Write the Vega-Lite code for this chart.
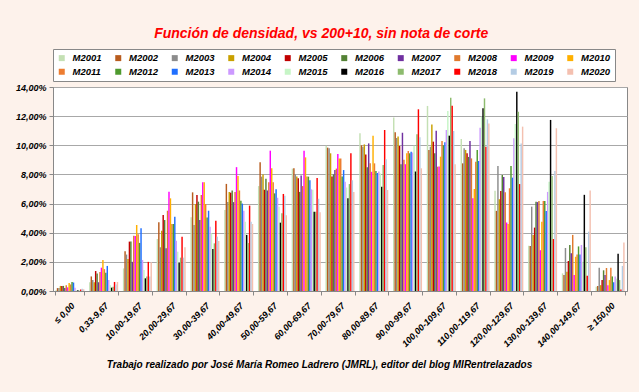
{
"$schema": "https://vega.github.io/schema/vega-lite/v6.json",
"autosize": {"type": "none"},
"width": 574, "height": 204,
"padding": {"left": 53, "top": 87, "right": 12, "bottom": 101},
"background": "#FDF2EB",
"title": {"text": "Función de densidad, vs 200+10, sin nota de corte", "color": "#FF0000", "font": "Liberation Sans", "fontSize": 14, "fontStyle": "italic", "fontWeight": "bold", "frame": "bounds", "anchor": "middle", "offset": 8},
"data": {"values": [
{"c":"≤ 0,00","s":"M2001","v":0.05},{"c":"≤ 0,00","s":"M2002","v":0.2},{"c":"≤ 0,00","s":"M2003","v":0.2},{"c":"≤ 0,00","s":"M2004","v":0.35},{"c":"≤ 0,00","s":"M2005","v":0.35},{"c":"≤ 0,00","s":"M2006","v":0.35},{"c":"≤ 0,00","s":"M2007","v":0.2},{"c":"≤ 0,00","s":"M2008","v":0.4},{"c":"≤ 0,00","s":"M2009","v":0.25},{"c":"≤ 0,00","s":"M2010","v":0.55},{"c":"≤ 0,00","s":"M2011","v":0.45},{"c":"≤ 0,00","s":"M2012","v":0.62},{"c":"≤ 0,00","s":"M2013","v":0.58},{"c":"≤ 0,00","s":"M2014","v":0.23},{"c":"≤ 0,00","s":"M2015","v":0.05},{"c":"≤ 0,00","s":"M2016","v":0.05},{"c":"≤ 0,00","s":"M2017","v":0.02},{"c":"≤ 0,00","s":"M2018","v":0.1},{"c":"≤ 0,00","s":"M2019","v":0.15},{"c":"≤ 0,00","s":"M2020","v":0.12},
{"c":"0,33-9,67","s":"M2001","v":0.6},{"c":"0,33-9,67","s":"M2002","v":1.0},{"c":"0,33-9,67","s":"M2003","v":0.75},{"c":"0,33-9,67","s":"M2004","v":0.6},{"c":"0,33-9,67","s":"M2005","v":1.37},{"c":"0,33-9,67","s":"M2006","v":1.2},{"c":"0,33-9,67","s":"M2007","v":0.6},{"c":"0,33-9,67","s":"M2008","v":1.3},{"c":"0,33-9,67","s":"M2009","v":1.6},{"c":"0,33-9,67","s":"M2010","v":2.13},{"c":"0,33-9,67","s":"M2011","v":1.5},{"c":"0,33-9,67","s":"M2012","v":1.25},{"c":"0,33-9,67","s":"M2013","v":1.72},{"c":"0,33-9,67","s":"M2014","v":0.75},{"c":"0,33-9,67","s":"M2015","v":0.4},{"c":"0,33-9,67","s":"M2016","v":0.23},{"c":"0,33-9,67","s":"M2017","v":0.3},{"c":"0,33-9,67","s":"M2018","v":0.62},{"c":"0,33-9,67","s":"M2019","v":0.45},{"c":"0,33-9,67","s":"M2020","v":0.62},
{"c":"10,00-19,67","s":"M2001","v":1.55},{"c":"10,00-19,67","s":"M2002","v":2.72},{"c":"10,00-19,67","s":"M2003","v":2.5},{"c":"10,00-19,67","s":"M2004","v":2.2},{"c":"10,00-19,67","s":"M2005","v":3.39},{"c":"10,00-19,67","s":"M2006","v":3.4},{"c":"10,00-19,67","s":"M2007","v":2.0},{"c":"10,00-19,67","s":"M2008","v":3.8},{"c":"10,00-19,67","s":"M2009","v":3.78},{"c":"10,00-19,67","s":"M2010","v":4.53},{"c":"10,00-19,67","s":"M2011","v":3.9},{"c":"10,00-19,67","s":"M2012","v":3.3},{"c":"10,00-19,67","s":"M2013","v":4.3},{"c":"10,00-19,67","s":"M2014","v":2.13},{"c":"10,00-19,67","s":"M2015","v":1.44},{"c":"10,00-19,67","s":"M2016","v":0.87},{"c":"10,00-19,67","s":"M2017","v":1.0},{"c":"10,00-19,67","s":"M2018","v":2.0},{"c":"10,00-19,67","s":"M2019","v":1.0},{"c":"10,00-19,67","s":"M2020","v":1.97},
{"c":"20,00-29,67","s":"M2001","v":3.57},{"c":"20,00-29,67","s":"M2002","v":4.72},{"c":"20,00-29,67","s":"M2003","v":3.0},{"c":"20,00-29,67","s":"M2004","v":4.14},{"c":"20,00-29,67","s":"M2005","v":5.22},{"c":"20,00-29,67","s":"M2006","v":4.87},{"c":"20,00-29,67","s":"M2007","v":2.93},{"c":"20,00-29,67","s":"M2008","v":5.51},{"c":"20,00-29,67","s":"M2009","v":6.81},{"c":"20,00-29,67","s":"M2010","v":6.36},{"c":"20,00-29,67","s":"M2011","v":4.6},{"c":"20,00-29,67","s":"M2012","v":4.6},{"c":"20,00-29,67","s":"M2013","v":5.1},{"c":"20,00-29,67","s":"M2014","v":3.45},{"c":"20,00-29,67","s":"M2015","v":2.7},{"c":"20,00-29,67","s":"M2016","v":1.94},{"c":"20,00-29,67","s":"M2017","v":2.29},{"c":"20,00-29,67","s":"M2018","v":3.73},{"c":"20,00-29,67","s":"M2019","v":2.29},{"c":"20,00-29,67","s":"M2020","v":3.0},
{"c":"30,00-39,67","s":"M2001","v":5.06},{"c":"30,00-39,67","s":"M2002","v":6.77},{"c":"30,00-39,67","s":"M2003","v":4.53},{"c":"30,00-39,67","s":"M2004","v":5.97},{"c":"30,00-39,67","s":"M2005","v":6.59},{"c":"30,00-39,67","s":"M2006","v":6.13},{"c":"30,00-39,67","s":"M2007","v":4.87},{"c":"30,00-39,67","s":"M2008","v":6.59},{"c":"30,00-39,67","s":"M2009","v":7.46},{"c":"30,00-39,67","s":"M2010","v":7.46},{"c":"30,00-39,67","s":"M2011","v":5.97},{"c":"30,00-39,67","s":"M2012","v":5.05},{"c":"30,00-39,67","s":"M2013","v":5.51},{"c":"30,00-39,67","s":"M2014","v":4.41},{"c":"30,00-39,67","s":"M2015","v":3.96},{"c":"30,00-39,67","s":"M2016","v":2.88},{"c":"30,00-39,67","s":"M2017","v":3.27},{"c":"30,00-39,67","s":"M2018","v":4.82},{"c":"30,00-39,67","s":"M2019","v":3.73},{"c":"30,00-39,67","s":"M2020","v":3.43},
{"c":"40,00-49,67","s":"M2001","v":5.56},{"c":"40,00-49,67","s":"M2002","v":7.35},{"c":"40,00-49,67","s":"M2003","v":6.1},{"c":"40,00-49,67","s":"M2004","v":6.8},{"c":"40,00-49,67","s":"M2005","v":6.75},{"c":"40,00-49,67","s":"M2006","v":6.9},{"c":"40,00-49,67","s":"M2007","v":6.1},{"c":"40,00-49,67","s":"M2008","v":6.8},{"c":"40,00-49,67","s":"M2009","v":8.5},{"c":"40,00-49,67","s":"M2010","v":7.9},{"c":"40,00-49,67","s":"M2011","v":6.9},{"c":"40,00-49,67","s":"M2012","v":6.2},{"c":"40,00-49,67","s":"M2013","v":6.0},{"c":"40,00-49,67","s":"M2014","v":5.5},{"c":"40,00-49,67","s":"M2015","v":4.75},{"c":"40,00-49,67","s":"M2016","v":3.85},{"c":"40,00-49,67","s":"M2017","v":3.3},{"c":"40,00-49,67","s":"M2018","v":5.86},{"c":"40,00-49,67","s":"M2019","v":4.76},{"c":"40,00-49,67","s":"M2020","v":4.6},
{"c":"50,00-59,67","s":"M2001","v":7.2},{"c":"50,00-59,67","s":"M2002","v":8.83},{"c":"50,00-59,67","s":"M2003","v":7.85},{"c":"50,00-59,67","s":"M2004","v":8.0},{"c":"50,00-59,67","s":"M2005","v":6.95},{"c":"50,00-59,67","s":"M2006","v":7.7},{"c":"50,00-59,67","s":"M2007","v":6.9},{"c":"50,00-59,67","s":"M2008","v":7.46},{"c":"50,00-59,67","s":"M2009","v":9.63},{"c":"50,00-59,67","s":"M2010","v":8.42},{"c":"50,00-59,67","s":"M2011","v":7.46},{"c":"50,00-59,67","s":"M2012","v":6.7},{"c":"50,00-59,67","s":"M2013","v":6.98},{"c":"50,00-59,67","s":"M2014","v":6.4},{"c":"50,00-59,67","s":"M2015","v":5.79},{"c":"50,00-59,67","s":"M2016","v":4.69},{"c":"50,00-59,67","s":"M2017","v":5.33},{"c":"50,00-59,67","s":"M2018","v":6.66},{"c":"50,00-59,67","s":"M2019","v":6.54},{"c":"50,00-59,67","s":"M2020","v":5.2},
{"c":"60,00-69,67","s":"M2001","v":8.4},{"c":"60,00-69,67","s":"M2002","v":8.42},{"c":"60,00-69,67","s":"M2003","v":8.0},{"c":"60,00-69,67","s":"M2004","v":7.85},{"c":"60,00-69,67","s":"M2005","v":7.73},{"c":"60,00-69,67","s":"M2006","v":6.8},{"c":"60,00-69,67","s":"M2007","v":7.93},{"c":"60,00-69,67","s":"M2008","v":7.2},{"c":"60,00-69,67","s":"M2009","v":9.63},{"c":"60,00-69,67","s":"M2010","v":9.17},{"c":"60,00-69,67","s":"M2011","v":7.85},{"c":"60,00-69,67","s":"M2012","v":7.85},{"c":"60,00-69,67","s":"M2013","v":7.6},{"c":"60,00-69,67","s":"M2014","v":6.98},{"c":"60,00-69,67","s":"M2015","v":6.95},{"c":"60,00-69,67","s":"M2016","v":5.44},{"c":"60,00-69,67","s":"M2017","v":5.44},{"c":"60,00-69,67","s":"M2018","v":7.75},{"c":"60,00-69,67","s":"M2019","v":6.33},{"c":"60,00-69,67","s":"M2020","v":5.4},
{"c":"70,00-79,67","s":"M2001","v":9.97},{"c":"70,00-79,67","s":"M2002","v":9.84},{"c":"70,00-79,67","s":"M2003","v":9.8},{"c":"70,00-79,67","s":"M2004","v":9.45},{"c":"70,00-79,67","s":"M2005","v":7.85},{"c":"70,00-79,67","s":"M2006","v":8.0},{"c":"70,00-79,67","s":"M2007","v":8.3},{"c":"70,00-79,67","s":"M2008","v":8.4},{"c":"70,00-79,67","s":"M2009","v":9.4},{"c":"70,00-79,67","s":"M2010","v":9.1},{"c":"70,00-79,67","s":"M2011","v":9.1},{"c":"70,00-79,67","s":"M2012","v":7.85},{"c":"70,00-79,67","s":"M2013","v":8.3},{"c":"70,00-79,67","s":"M2014","v":7.5},{"c":"70,00-79,67","s":"M2015","v":7.1},{"c":"70,00-79,67","s":"M2016","v":6.36},{"c":"70,00-79,67","s":"M2017","v":7.34},{"c":"70,00-79,67","s":"M2018","v":9.45},{"c":"70,00-79,67","s":"M2019","v":7.6},{"c":"70,00-79,67","s":"M2020","v":6.8},
{"c":"80,00-89,67","s":"M2001","v":10.82},{"c":"80,00-89,67","s":"M2002","v":10.0},{"c":"80,00-89,67","s":"M2003","v":9.9},{"c":"80,00-89,67","s":"M2004","v":10.06},{"c":"80,00-89,67","s":"M2005","v":9.37},{"c":"80,00-89,67","s":"M2006","v":8.5},{"c":"80,00-89,67","s":"M2007","v":10.13},{"c":"80,00-89,67","s":"M2008","v":8.76},{"c":"80,00-89,67","s":"M2009","v":8.18},{"c":"80,00-89,67","s":"M2010","v":10.65},{"c":"80,00-89,67","s":"M2011","v":8.76},{"c":"80,00-89,67","s":"M2012","v":8.23},{"c":"80,00-89,67","s":"M2013","v":8.1},{"c":"80,00-89,67","s":"M2014","v":8.2},{"c":"80,00-89,67","s":"M2015","v":8.07},{"c":"80,00-89,67","s":"M2016","v":7.15},{"c":"80,00-89,67","s":"M2017","v":8.64},{"c":"80,00-89,67","s":"M2018","v":11.05},{"c":"80,00-89,67","s":"M2019","v":9.05},{"c":"80,00-89,67","s":"M2020","v":6.93},
{"c":"90,00-99,67","s":"M2001","v":11.9},{"c":"90,00-99,67","s":"M2002","v":10.9},{"c":"90,00-99,67","s":"M2003","v":10.5},{"c":"90,00-99,67","s":"M2004","v":10.6},{"c":"90,00-99,67","s":"M2005","v":9.95},{"c":"90,00-99,67","s":"M2006","v":8.7},{"c":"90,00-99,67","s":"M2007","v":10.86},{"c":"90,00-99,67","s":"M2008","v":9.0},{"c":"90,00-99,67","s":"M2009","v":8.7},{"c":"90,00-99,67","s":"M2010","v":9.45},{"c":"90,00-99,67","s":"M2011","v":9.6},{"c":"90,00-99,67","s":"M2012","v":9.45},{"c":"90,00-99,67","s":"M2013","v":9.56},{"c":"90,00-99,67","s":"M2014","v":9.5},{"c":"90,00-99,67","s":"M2015","v":9.97},{"c":"90,00-99,67","s":"M2016","v":8.2},{"c":"90,00-99,67","s":"M2017","v":10.75},{"c":"90,00-99,67","s":"M2018","v":12.47},{"c":"90,00-99,67","s":"M2019","v":10.55},{"c":"90,00-99,67","s":"M2020","v":8.42},
{"c":"100,00-109,67","s":"M2001","v":12.7},{"c":"100,00-109,67","s":"M2002","v":9.68},{"c":"100,00-109,67","s":"M2003","v":9.9},{"c":"100,00-109,67","s":"M2004","v":11.43},{"c":"100,00-109,67","s":"M2005","v":10.25},{"c":"100,00-109,67","s":"M2006","v":9.45},{"c":"100,00-109,67","s":"M2007","v":11.0},{"c":"100,00-109,67","s":"M2008","v":8.53},{"c":"100,00-109,67","s":"M2009","v":8.55},{"c":"100,00-109,67","s":"M2010","v":9.22},{"c":"100,00-109,67","s":"M2011","v":10.3},{"c":"100,00-109,67","s":"M2012","v":10.0},{"c":"100,00-109,67","s":"M2013","v":10.2},{"c":"100,00-109,67","s":"M2014","v":11.05},{"c":"100,00-109,67","s":"M2015","v":12.35},{"c":"100,00-109,67","s":"M2016","v":10.66},{"c":"100,00-109,67","s":"M2017","v":13.27},{"c":"100,00-109,67","s":"M2018","v":12.72},{"c":"100,00-109,67","s":"M2019","v":10.98},{"c":"100,00-109,67","s":"M2020","v":8.7},
{"c":"110,00-119,67","s":"M2001","v":10.43},{"c":"110,00-119,67","s":"M2002","v":8.76},{"c":"110,00-119,67","s":"M2003","v":9.8},{"c":"110,00-119,67","s":"M2004","v":9.68},{"c":"110,00-119,67","s":"M2005","v":9.45},{"c":"110,00-119,67","s":"M2006","v":9.2},{"c":"110,00-119,67","s":"M2007","v":10.3},{"c":"110,00-119,67","s":"M2008","v":9.1},{"c":"110,00-119,67","s":"M2009","v":6.36},{"c":"110,00-119,67","s":"M2010","v":7.0},{"c":"110,00-119,67","s":"M2011","v":8.87},{"c":"110,00-119,67","s":"M2012","v":9.68},{"c":"110,00-119,67","s":"M2013","v":8.92},{"c":"110,00-119,67","s":"M2014","v":11.2},{"c":"110,00-119,67","s":"M2015","v":11.96},{"c":"110,00-119,67","s":"M2016","v":12.54},{"c":"110,00-119,67","s":"M2017","v":13.22},{"c":"110,00-119,67","s":"M2018","v":9.9},{"c":"110,00-119,67","s":"M2019","v":11.78},{"c":"110,00-119,67","s":"M2020","v":11.5},
{"c":"120,00-129,67","s":"M2001","v":6.88},{"c":"120,00-129,67","s":"M2002","v":5.5},{"c":"120,00-129,67","s":"M2003","v":8.58},{"c":"120,00-129,67","s":"M2004","v":6.3},{"c":"120,00-129,67","s":"M2005","v":6.86},{"c":"120,00-129,67","s":"M2006","v":7.96},{"c":"120,00-129,67","s":"M2007","v":7.82},{"c":"120,00-129,67","s":"M2008","v":6.77},{"c":"120,00-129,67","s":"M2009","v":4.7},{"c":"120,00-129,67","s":"M2010","v":4.6},{"c":"120,00-129,67","s":"M2011","v":7.05},{"c":"120,00-129,67","s":"M2012","v":8.58},{"c":"120,00-129,67","s":"M2013","v":7.78},{"c":"120,00-129,67","s":"M2014","v":10.48},{"c":"120,00-129,67","s":"M2015","v":11.46},{"c":"120,00-129,67","s":"M2016","v":13.68},{"c":"120,00-129,67","s":"M2017","v":12.3},{"c":"120,00-129,67","s":"M2018","v":7.34},{"c":"120,00-129,67","s":"M2019","v":10.13},{"c":"120,00-129,67","s":"M2020","v":11.28},
{"c":"130,00-139,67","s":"M2001","v":3.1},{"c":"130,00-139,67","s":"M2002","v":3.09},{"c":"130,00-139,67","s":"M2003","v":5.79},{"c":"130,00-139,67","s":"M2004","v":3.85},{"c":"130,00-139,67","s":"M2005","v":4.35},{"c":"130,00-139,67","s":"M2006","v":6.13},{"c":"130,00-139,67","s":"M2007","v":6.1},{"c":"130,00-139,67","s":"M2008","v":6.18},{"c":"130,00-139,67","s":"M2009","v":2.8},{"c":"130,00-139,67","s":"M2010","v":4.76},{"c":"130,00-139,67","s":"M2011","v":6.18},{"c":"130,00-139,67","s":"M2012","v":6.18},{"c":"130,00-139,67","s":"M2013","v":5.49},{"c":"130,00-139,67","s":"M2014","v":6.8},{"c":"130,00-139,67","s":"M2015","v":7.5},{"c":"130,00-139,67","s":"M2016","v":11.74},{"c":"130,00-139,67","s":"M2017","v":7.9},{"c":"130,00-139,67","s":"M2018","v":3.57},{"c":"130,00-139,67","s":"M2019","v":8.23},{"c":"130,00-139,67","s":"M2020","v":11.17},
{"c":"140,00-149,67","s":"M2001","v":1.21},{"c":"140,00-149,67","s":"M2002","v":1.1},{"c":"140,00-149,67","s":"M2003","v":2.95},{"c":"140,00-149,67","s":"M2004","v":1.32},{"c":"140,00-149,67","s":"M2005","v":2.06},{"c":"140,00-149,67","s":"M2006","v":3.16},{"c":"140,00-149,67","s":"M2007","v":2.59},{"c":"140,00-149,67","s":"M2008","v":3.85},{"c":"140,00-149,67","s":"M2009","v":1.1},{"c":"140,00-149,67","s":"M2010","v":2.35},{"c":"140,00-149,67","s":"M2011","v":2.5},{"c":"140,00-149,67","s":"M2012","v":3.06},{"c":"140,00-149,67","s":"M2013","v":2.5},{"c":"140,00-149,67","s":"M2014","v":3.16},{"c":"140,00-149,67","s":"M2015","v":2.0},{"c":"140,00-149,67","s":"M2016","v":6.6},{"c":"140,00-149,67","s":"M2017","v":3.0},{"c":"140,00-149,67","s":"M2018","v":1.05},{"c":"140,00-149,67","s":"M2019","v":4.07},{"c":"140,00-149,67","s":"M2020","v":6.9},
{"c":"≥ 150,00","s":"M2001","v":0.3},{"c":"≥ 150,00","s":"M2002","v":0.35},{"c":"≥ 150,00","s":"M2003","v":1.6},{"c":"≥ 150,00","s":"M2004","v":0.4},{"c":"≥ 150,00","s":"M2005","v":0.75},{"c":"≥ 150,00","s":"M2006","v":1.42},{"c":"≥ 150,00","s":"M2007","v":1.1},{"c":"≥ 150,00","s":"M2008","v":1.58},{"c":"≥ 150,00","s":"M2009","v":0.4},{"c":"≥ 150,00","s":"M2010","v":0.75},{"c":"≥ 150,00","s":"M2011","v":1.6},{"c":"≥ 150,00","s":"M2012","v":1.0},{"c":"≥ 150,00","s":"M2013","v":0.6},{"c":"≥ 150,00","s":"M2014","v":1.0},{"c":"≥ 150,00","s":"M2015","v":0.85},{"c":"≥ 150,00","s":"M2016","v":2.56},{"c":"≥ 150,00","s":"M2017","v":0.75},{"c":"≥ 150,00","s":"M2018","v":0.1},{"c":"≥ 150,00","s":"M2019","v":1.72},{"c":"≥ 150,00","s":"M2020","v":3.33}
]},
"mark": {"type": "bar"},
"encoding": {
"x": {"field": "c", "type": "nominal", "sort": null,
 "scale": {"paddingInner": 0.14, "paddingOuter": 0.07},
 "axis": {"title": "Trabajo realizado por José María Romeo Ladrero (JMRL), editor del blog MIRentrelazados", "titleFont": "Liberation Sans", "titleFontSize": 10, "titleFontStyle": "italic", "titleFontWeight": "bold", "titleColor": "#000000", "titleX": 266, "titleY": 76, "titleBaseline": "alphabetic", "titleAlign": "center", "titleAnchor": null,
  "labelAngle": -45, "labelFont": "Liberation Sans", "labelFontSize": 9, "labelFontStyle": "italic", "labelFontWeight": "bold", "labelColor": "#000000", "labelPadding": 6,
  "tickBand": "extent", "tickColor": "#888888", "tickSize": 4, "domainColor": "#888888", "grid": false}},
"xOffset": {"field": "s", "type": "nominal", "sort": null, "scale": {"paddingInner": 0, "paddingOuter": 0}},
"y": {"field": "v", "type": "quantitative", "scale": {"domain": [0, 14], "nice": false},
 "axis": {"title": null, "values": [0, 2, 4, 6, 8, 10, 12, 14], "labelExpr": "replace(format(datum.value, '.2f'), '.', ',') + '%'", "labelFont": "Liberation Sans", "labelFontSize": 9, "labelFontStyle": "italic", "labelFontWeight": "bold", "labelColor": "#000000", "grid": true, "gridColor": "#A8A8A8", "gridWidth": 1, "tickColor": "#888888", "tickSize": 4, "domainColor": "#888888", "labelPadding": 3}},
"color": {"field": "s", "type": "nominal", "sort": null,
 "scale": {"domain": ["M2001","M2002","M2003","M2004","M2005","M2006","M2007","M2008","M2009","M2010","M2011","M2012","M2013","M2014","M2015","M2016","M2017","M2018","M2019","M2020"],
  "range": ["#C4E0B4","#B85C1E","#8C8C8C","#C9A000","#C00000","#548235","#7030A0","#E07A2E","#FF00FF","#FFB000","#ED7D31","#4E9A2E","#1F6FFF","#CC99FF","#C6F5C6","#000000","#8DBB6E","#FF0000","#B4CCE4","#F4C0B0"]},
 "legend": {"title": null, "orient": "top", "direction": "horizontal", "columns": 10, "symbolType": "square", "symbolSize": 36, "symbolStrokeWidth": 0, "labelFont": "Liberation Sans", "labelFontSize": 9.5, "labelFontStyle": "italic", "labelFontWeight": "bold", "labelColor": "#000000", "labelOffset": 6, "columnPadding": 11.5, "rowPadding": 3, "padding": 4, "strokeColor": "#888888", "fillColor": "#FFFFFF", "offset": 6}}
},
"config": {"view": {"fill": "#FFFFFF", "stroke": "#888888"}}
}
